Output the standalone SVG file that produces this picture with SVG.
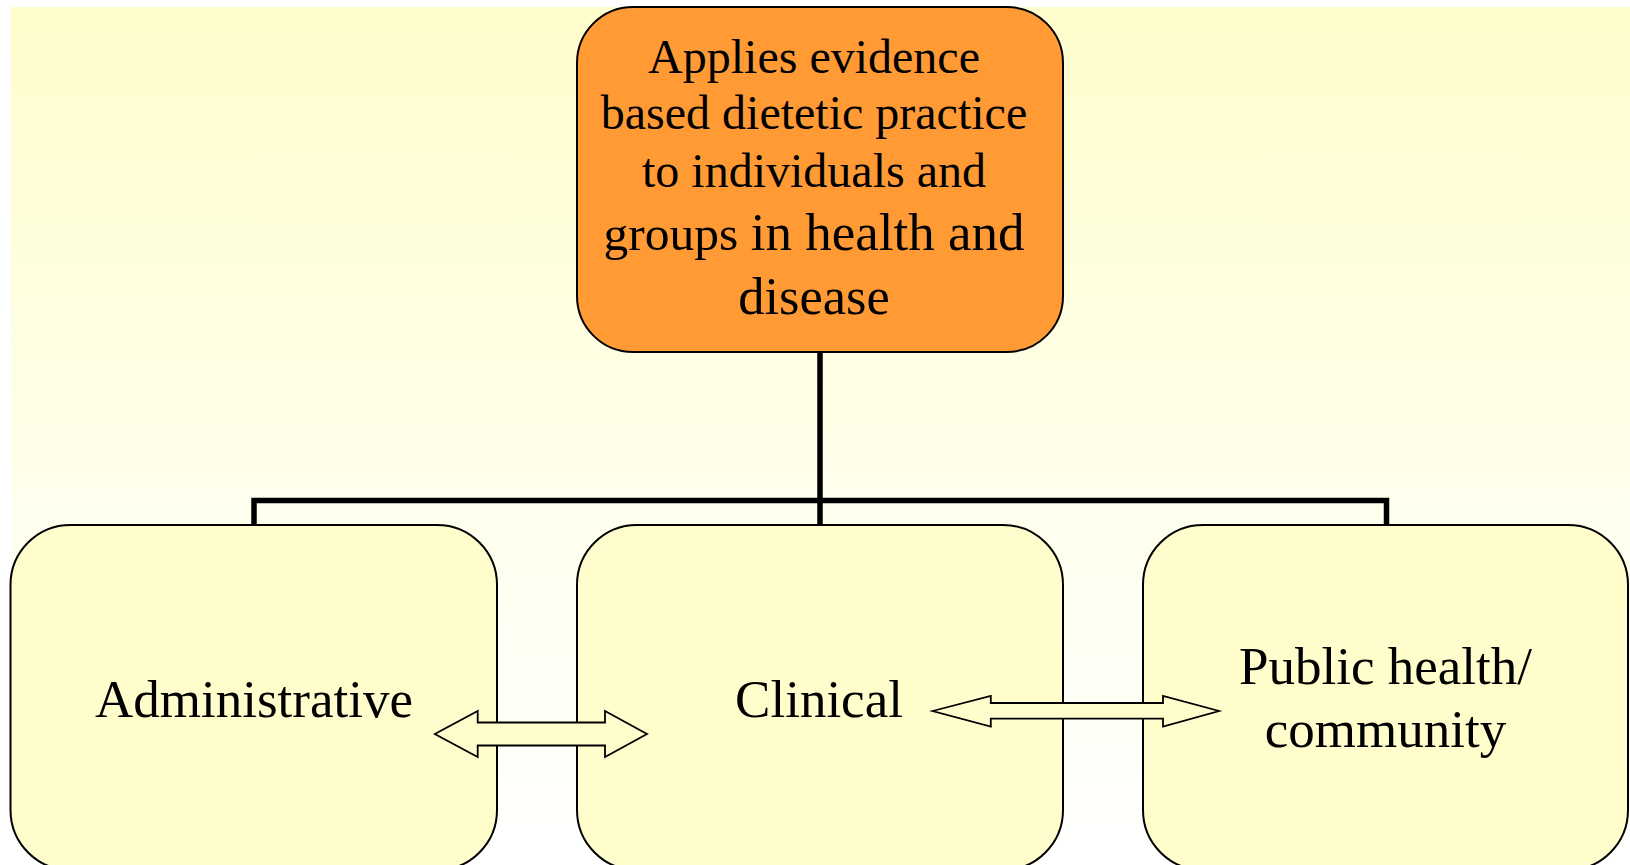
<svg xmlns="http://www.w3.org/2000/svg" width="1630" height="865" viewBox="0 0 1630 865">
<defs>
<linearGradient id="bg" x1="0" y1="0" x2="0" y2="1">
<stop offset="0" stop-color="#FFFDCB"/>
<stop offset="0.55" stop-color="#FFFFEC"/>
<stop offset="1" stop-color="#FFFFFF"/>
</linearGradient>
<style>
.box{fill:#FFFDCB;stroke:#000;stroke-width:2}
.top{fill:#FF9A35;stroke:#000;stroke-width:2}
.t{font-family:"Liberation Serif","Times New Roman",serif;fill:#000;text-anchor:middle}
.conn{fill:none;stroke:#000;stroke-width:5.5}
.arr{fill:#FFFDCB;stroke:#000;stroke-width:1.8;stroke-linejoin:miter}
</style>
</defs>
<rect x="11" y="7" width="1619" height="858" fill="url(#bg)"/>
<g id="connectors">
<path class="conn" d="M820,352 V500.5 M254,525 V500.5 H1386.5 V525 M820,500.5 V525"/>
</g>
<g id="node-top">
<rect class="top" x="577" y="7" width="486" height="345" rx="56" ry="56"/>
<text class="t" font-size="48" x="814" y="73">Applies evidence</text>
<text class="t" font-size="48" x="814" y="129">based dietetic practice</text>
<text class="t" font-size="48" x="814" y="187">to individuals and</text>
<text class="t" x="814" y="250"><tspan font-size="49.5">groups </tspan><tspan font-size="53">in health and</tspan></text>
<text class="t" font-size="52.5" x="814" y="314">disease</text>
</g>
<g id="node-administrative">
<rect class="box" x="10.5" y="525" width="486.5" height="345" rx="60" ry="60"/>
<text class="t" font-size="53" x="254" y="717">Administrative</text>
</g>
<g id="node-clinical">
<rect class="box" x="577" y="525" width="486" height="345" rx="60" ry="60"/>
<text class="t" font-size="53" x="819" y="717">Clinical</text>
</g>
<g id="node-public">
<rect class="box" x="1143" y="525" width="485" height="345" rx="60" ry="60"/>
<text class="t" font-size="53" x="1385.5" y="684">Public health/</text>
<text class="t" font-size="53" x="1385.5" y="747">community</text>
</g>
<g id="arrows">
<polygon class="arr" points="434.8,734 477.7,711 477.7,722.5 605,722.5 605,711 647,734 605,757 605,745.5 477.7,745.5 477.7,757"/>
<polygon class="arr" points="932.6,711 990.8,696 990.8,703 1163,703 1163,696 1219,711 1163,726.5 1163,718.7 990.8,718.7 990.8,726.5"/>
</g>
</svg>
